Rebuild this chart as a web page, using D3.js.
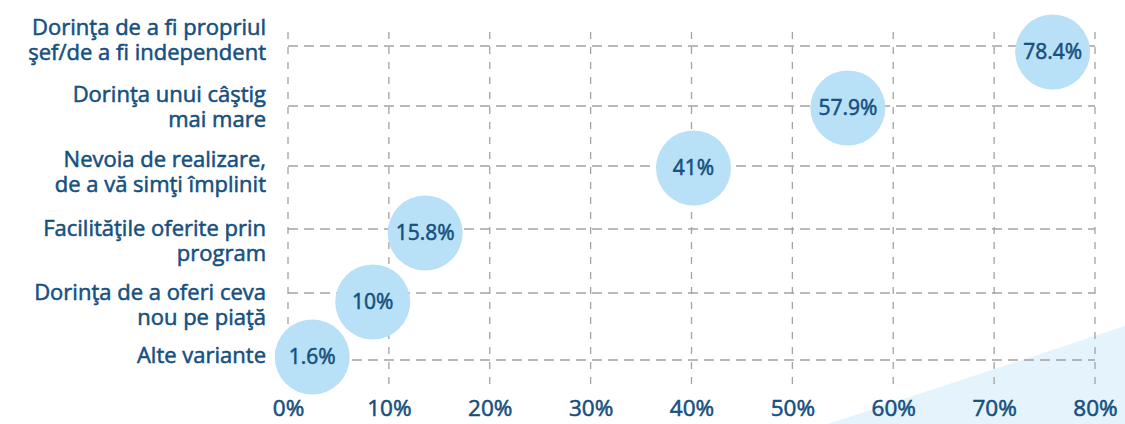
<!DOCTYPE html>
<html>
<head>
<meta charset="utf-8">
<script src="https://cdn.jsdelivr.net/npm/d3@7"></script>
<style>
  html, body { margin: 0; padding: 0; background: #ffffff; }
  svg { display: block; }
</style>
</head>
<body>
<svg id="chart" width="1125" height="424"></svg>
<script>
// ---- data ----
const categories = [
  ["Dorinţa de a fi propriul", "şef/de a fi independent"],
  ["Dorinţa unui câştig", "mai mare"],
  ["Nevoia de realizare,", "de a vă simţi împlinit"],
  ["Facilităţile oferite prin", "program"],
  ["Dorinţa de a oferi ceva", "nou pe piaţă"],
  ["Alte variante"]
];
const values = [78.4, 57.9, 41, 15.8, 10, 1.6];
const valueLabels = ["78.4%", "57.9%", "41%", "15.8%", "10%", "1.6%"];
// horizontal placement of each bubble as drawn in the picture (in % units)
const plotted = [75.8, 55.5, 40.2, 13.6, 8.4, 2.4];
const xTicks = [0, 10, 20, 30, 40, 50, 60, 70, 80];

// ---- layout ----
const W = 1125, H = 424;
const svg = d3.select("#chart");
const idx = d3.range(categories.length);
const x = d3.scaleLinear().domain([0, 80]).range([288, 1095]);
// row positions (hand-laid infographic: rows are not perfectly even)
const yGrid = d3.scaleOrdinal().domain(idx).range([46, 106, 166, 229, 293, 360]);
const yBubble = d3.scaleOrdinal().domain(idx).range([52, 108, 168, 233, 302, 357]);
const yLabel = d3.scaleOrdinal().domain(idx).range([40, 107, 172, 241, 305, 355]);
const textColor = "#15507f";
const font = "'Open Sans', 'Noto Sans', sans-serif";

function heavy(sel) {
  sel.attr("fill", textColor)
    .attr("stroke", textColor)
    .attr("stroke-width", 0.55)
    .attr("font-family", font);
}

// background decoration
svg.append("path")
  .attr("d", d3.line()([[828, H], [W, 326], [W, H]]))
  .attr("fill", "#e4f3fc");

// grid
const grid = svg.append("g");
grid.selectAll("line.h").data(idx).join("line")
  .attr("x1", x(0)).attr("x2", x(80))
  .attr("y1", d => yGrid(d)).attr("y2", d => yGrid(d))
  .attr("stroke", "#a3a3a3").attr("stroke-width", 1.3)
  .attr("stroke-dasharray", "10,6");
grid.selectAll("line.v").data(xTicks).join("line")
  .attr("x1", d => x(d)).attr("x2", d => x(d))
  .attr("y1", 32).attr("y2", 388)
  .attr("stroke", "#a3a3a3").attr("stroke-width", 1.3)
  .attr("stroke-dasharray", "7,8");

// x axis tick labels
const xAxis = d3.axisBottom(x).tickValues(xTicks).tickFormat(d => d + "%").tickSize(0).tickPadding(0);
const ax = svg.append("g").attr("transform", "translate(0,396)").call(xAxis);
ax.select(".domain").remove();
ax.selectAll("text")
  .call(heavy)
  .attr("font-size", 22.5)
  .attr("dy", "0.9em");

// category labels
const lab = svg.append("g");
categories.forEach((lines, i) => {
  const n = lines.length;
  const lh = 24.5;
  const t = lab.append("text")
    .attr("text-anchor", "end")
    .call(heavy)
    .attr("font-size", 22);
  lines.forEach((ln, j) => {
    t.append("tspan")
      .attr("x", 266)
      .attr("y", yLabel(i) - (n - 1) * lh / 2 + j * lh)
      .attr("dy", "0.35em")
      .text(ln);
  });
});

// bubbles
const b = svg.append("g").selectAll("g").data(values).join("g")
  .attr("transform", (d, i) => `translate(${x(plotted[i])},${yBubble(i)})`);
b.append("circle").attr("r", 37.5).attr("fill", "#b8e0f7");
b.append("text")
  .attr("text-anchor", "middle")
  .attr("dy", "0.35em")
  .call(heavy)
  .attr("font-size", 21)
  .text((d, i) => valueLabels[i]);
</script>
</body>
</html>
